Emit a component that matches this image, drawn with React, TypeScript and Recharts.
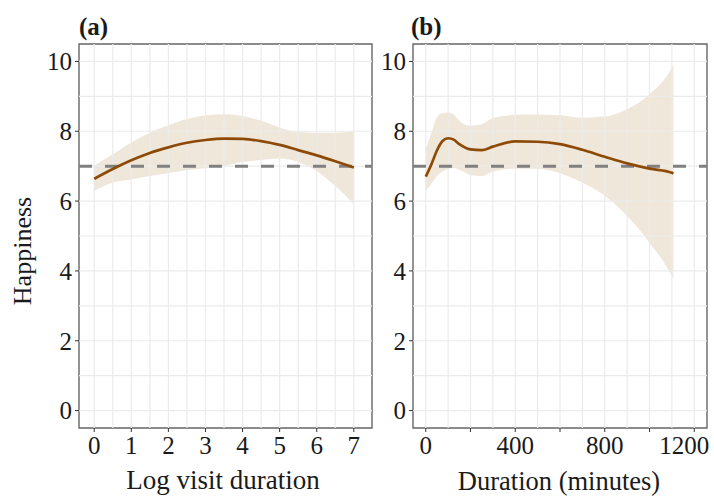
import React from 'react';
import {
  ComposedChart,
  Area,
  Line,
  XAxis,
  YAxis,
  ReferenceLine,
  ReferenceArea,
} from 'recharts';

// panel (a): log visit duration
const aX = [0, 0.5, 1, 1.5, 2, 2.5, 3, 3.5, 4, 4.5, 5, 5.5, 6, 6.5, 7];
const aFit = [6.64, 6.92, 7.17, 7.38, 7.54, 7.67, 7.75, 7.79, 7.78, 7.72, 7.61, 7.46, 7.31, 7.14, 6.96];
const aUpper = [7.01, 7.34, 7.68, 7.96, 8.17, 8.35, 8.46, 8.49, 8.44, 8.3, 8.11, 7.98, 7.96, 7.96, 7.99];
const aLower = [6.29, 6.53, 6.62, 6.72, 6.8, 6.88, 6.94, 7.01, 7.12, 7.18, 7.22, 7.12, 6.86, 6.43, 5.91];

// panel (b): duration in minutes
const bX = [0, 25, 50, 75, 100, 125, 150, 200, 250, 300, 400, 500, 600, 700, 800, 900, 1000, 1100, 1107];
const bFit = [6.7, 7.05, 7.45, 7.72, 7.8, 7.76, 7.63, 7.48, 7.46, 7.56, 7.71, 7.7, 7.63, 7.47, 7.27, 7.08, 6.93, 6.81, 6.79];
const bUpper = [7.5, 7.95, 8.4, 8.52, 8.54, 8.48, 8.3, 8.16, 8.2, 8.38, 8.47, 8.48, 8.46, 8.39, 8.42, 8.63, 9.06, 9.83, 9.92];
const bLower = [6.29, 6.5, 6.72, 6.85, 6.92, 6.95, 6.9, 6.75, 6.72, 6.85, 6.93, 6.93, 6.8, 6.53, 6.15, 5.57, 4.81, 3.85, 3.76];

const yTicks = [0, 2, 4, 6, 8, 10];
const aTicks = [0, 1, 2, 3, 4, 5, 6, 7];
const bTicks = [0, 200, 400, 600, 800, 1000, 1200];
const bLabels = [0, 400, 800, 1200];
const reference = 7;

const Y_DOMAIN: [number, number] = [-0.5, 10.5];
const A_DOMAIN: [number, number] = [-0.41, 7.49];
const B_DOMAIN: [number, number] = [-57, 1257];

const FONT = '"Liberation Serif", "Times New Roman", serif';
const LINE = '#8c4a06';
const RIBBON = '#f0e7db';
const GRID = '#ebebeb';
const INK = '#1a1a1a';
const TICK_SIZE = 25;

const toRows = (xs: number[], fit: number[], lo: number[], hi: number[]) =>
  xs.map((x, i) => ({ x, fit: fit[i], band: [lo[i], hi[i]] }));

const steps = (from: number, to: number, step: number) => {
  const out: number[] = [];
  for (let v = from; v <= to + 1e-9; v += step) out.push(Math.round(v * 1000) / 1000);
  return out;
};

// x tick text; the last label of panel (b) sits a bit left so it stays inside the page
function XTick(props: any) {
  const { x, y, payload, labels, shiftLast } = props;
  const v = payload.value;
  if (labels && !labels.includes(v)) return null;
  const dx = shiftLast && v === shiftLast ? -10 : 0;
  return (
    <text
      x={x + dx}
      y={y}
      dy="0.8em"
      textAnchor="middle"
      fontFamily={FONT}
      fontSize={TICK_SIZE}
      fill={INK}
    >
      {v}
    </text>
  );
}

interface PanelProps {
  rows: { x: number; fit: number; band: number[] }[];
  xDomain: [number, number];
  xTicks: number[];
  xGrid: number[];
  width: number;
  yAxisWidth: number;
  rightMargin: number;
  labels?: number[];
  shiftLast?: number;
}

function Panel({ rows, xDomain, xTicks, xGrid, width, yAxisWidth, rightMargin, labels, shiftLast }: PanelProps) {
  const hGrid = steps(0, 10, 1);
  return (
    <ComposedChart
      width={width}
      height={498}
      data={rows}
      margin={{ top: 44, right: rightMargin, bottom: 30, left: 0 }}
    >
      {xGrid.map((v) => (
        <ReferenceLine key={`vx${v}`} x={v} stroke={GRID} strokeWidth={1.2} />
      ))}
      {hGrid.map((v) => (
        <ReferenceLine key={`hy${v}`} y={v} stroke={GRID} strokeWidth={1.2} />
      ))}
      <XAxis
        type="number"
        dataKey="x"
        domain={xDomain}
        ticks={xTicks}
        interval={0}
        allowDataOverflow
        height={40}
        axisLine={false}
        tickLine={{ stroke: '#333', strokeWidth: 1 }}
        tickSize={4}
        tickMargin={2}
        tick={<XTick labels={labels} shiftLast={shiftLast} />}
      />
      <YAxis
        type="number"
        domain={Y_DOMAIN}
        ticks={yTicks}
        interval={0}
        allowDataOverflow
        width={yAxisWidth}
        axisLine={false}
        tickLine={{ stroke: '#333', strokeWidth: 1 }}
        tickSize={4}
        tickMargin={3}
        tick={{ fontFamily: FONT, fontSize: TICK_SIZE, fill: INK }}
      />
      <Area
        type="monotone"
        dataKey="band"
        fill={RIBBON}
        fillOpacity={1}
        stroke="none"
        isAnimationActive={false}
        activeDot={false}
      />
      <ReferenceLine y={reference} stroke="#808080" strokeWidth={3} strokeDasharray="13 13" />
      <Line
        type="monotone"
        dataKey="fit"
        stroke={LINE}
        strokeWidth={2.7}
        dot={false}
        activeDot={false}
        isAnimationActive={false}
      />
      <ReferenceArea
        x1={xDomain[0]}
        x2={xDomain[1]}
        y1={Y_DOMAIN[0]}
        y2={Y_DOMAIN[1]}
        fill="none"
        stroke="#666"
        strokeWidth={1.4}
        ifOverflow="visible"
      />
    </ComposedChart>
  );
}

const textBase: React.CSSProperties = {
  position: 'absolute',
  fontFamily: FONT,
  color: INK,
  lineHeight: 1,
  whiteSpace: 'nowrap',
};

export default function App() {
  const rowsA = toRows(aX, aFit, aLower, aUpper);
  const rowsB = toRows(bX, bFit, bLower, bUpper);
  return (
    <div style={{ position: 'absolute', left: 0, top: 0, width: 714, height: 498, background: '#fff', overflow: 'hidden' }}>
      <div style={{ position: 'absolute', left: 0, top: 0 }}>
        <Panel
          rows={rowsA}
          xDomain={A_DOMAIN}
          xTicks={aTicks}
          xGrid={steps(0, 7, 0.5)}
          width={380}
          yAxisWidth={79}
          rightMargin={8}
        />
      </div>
      <div style={{ position: 'absolute', left: 380, top: 0 }}>
        <Panel
          rows={rowsB}
          xDomain={B_DOMAIN}
          xTicks={bTicks}
          xGrid={steps(0, 1200, 100)}
          width={334}
          yAxisWidth={33}
          rightMargin={7}
          labels={bLabels}
          shiftLast={1200}
        />
      </div>
      <div style={{ ...textBase, left: 79, top: 14, fontSize: 25, fontWeight: 'bold' }}>(a)</div>
      <div style={{ ...textBase, left: 411, top: 14, fontSize: 25, fontWeight: 'bold' }}>(b)</div>
      <div
        style={{
          ...textBase,
          left: 23,
          top: 251,
          fontSize: 26,
          transform: 'translate(-50%, -50%) rotate(-90deg)',
        }}
      >
        Happiness
      </div>
      <div style={{ ...textBase, left: 223, top: 467, fontSize: 27, transform: 'translateX(-50%)' }}>
        Log visit duration
      </div>
      <div style={{ ...textBase, left: 559, top: 468, fontSize: 26.5, transform: 'translateX(-50%)' }}>
        Duration (minutes)
      </div>
    </div>
  );
}
